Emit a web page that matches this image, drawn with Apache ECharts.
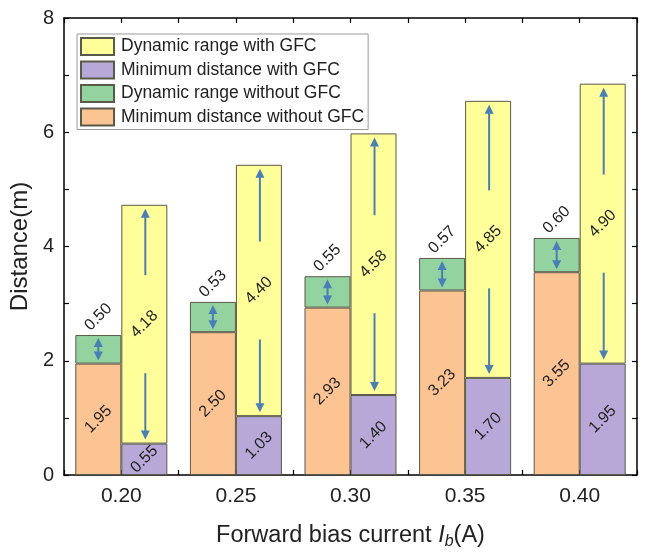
<!DOCTYPE html>
<html>
<head>
<meta charset="utf-8">
<script src="https://cdn.jsdelivr.net/npm/echarts@6/dist/echarts.min.js"></script>
<style>
html,body{margin:0;padding:0;background:#fff;}
#chart{width:646px;height:555px;}
</style>
</head>
<body>
<div id="chart"></div>
<script>
var categories = ['0.20', '0.25', '0.30', '0.35', '0.40'];
var minWithout = [1.95, 2.50, 2.93, 3.23, 3.55];
var dynWithout = [0.50, 0.53, 0.55, 0.57, 0.60];
var minWith = [0.55, 1.03, 1.40, 1.70, 1.95];
var dynWith = [4.18, 4.40, 4.58, 4.85, 4.90];
var yTicks = [0, 2, 4, 6, 8];

var FONT = 'Liberation Sans, Arial, sans-serif';
var C_ORANGE = '#FCC393', C_GREEN = '#93D3A0', C_PURPLE = '#B8A8D8', C_YELLOW = '#FFFF99';
var BORDER = '#5a5a48';
var ARROW = '#4A7EB8';
var BARW = 46;

var chart = echarts.init(document.getElementById('chart'), null, {renderer: 'canvas'});

function labelFmt(p) { return p.value.toFixed(2); }
var insideLabel = {
  show: true, position: 'inside', rotate: 45, align: 'center', verticalAlign: 'middle',
  fontSize: 16, fontFamily: FONT, color: '#222', formatter: labelFmt
};

var yellowArrowData = categories.map(function (c, i) { return [i, minWith[i], minWith[i] + dynWith[i]]; });
var greenArrowData = categories.map(function (c, i) { return [i, minWithout[i], minWithout[i] + dynWithout[i]]; });

function head(x, y, dir) {
  return {
    type: 'polygon',
    shape: {points: [[x, y], [x - 4.5, y - dir * 9], [x + 4.5, y - dir * 9]]},
    style: {fill: ARROW}
  };
}
function line(x, y1, y2) {
  return {type: 'line', shape: {x1: x, y1: y1, x2: x, y2: y2}, style: {stroke: ARROW, lineWidth: 2}};
}

function renderYellowArrows(params, api) {
  var i = api.value(0);
  var pb = api.coord([i, api.value(1)]);
  var pt = api.coord([i, api.value(2)]);
  var x = pt[0] + BARW / 2 + 1;
  var mid = (pb[1] + pt[1]) / 2;
  var topTip = pt[1] + 4, botTip = pb[1] - 4;
  return {
    type: 'group',
    children: [
      line(x, mid - 49, topTip + 6), head(x, topTip, -1),
      line(x, mid + 49, botTip - 6), head(x, botTip, 1)
    ]
  };
}
function renderGreenArrows(params, api) {
  var i = api.value(0);
  var pb = api.coord([i, api.value(1)]);
  var pt = api.coord([i, api.value(2)]);
  var x = pt[0] - BARW / 2;
  var topTip = pt[1] + 3, botTip = pb[1] - 3;
  return {
    type: 'group',
    children: [
      line(x, topTip + 6, botTip - 6), head(x, topTip, -1), head(x, botTip, 1)
    ]
  };
}

var tickLine = {color: '#000', width: 1.2};

var option = {
  animation: false,
  backgroundColor: '#fff',
  textStyle: {fontFamily: FONT},
  grid: {left: 64, right: 9, top: 18, bottom: 73, containLabel: false},
  legend: {
    data: ['Dynamic range with GFC', 'Minimum distance with GFC', 'Dynamic range without GFC', 'Minimum distance without GFC'],
    orient: 'vertical', left: 77, top: 34,
    itemWidth: 33, itemHeight: 17, itemGap: 4.5,
    padding: [3, 4, 3, 3],
    backgroundColor: '#fff', borderColor: '#999', borderWidth: 1,
    textStyle: {fontSize: 17.5, color: '#222', fontFamily: FONT, padding: [0, 0, 0, 2]},
    icon: 'rect'
  },
  xAxis: [
    {
      type: 'category', data: categories, position: 'bottom',
      axisLine: {show: true, onZero: false, lineStyle: {color: '#000', width: 1.5}},
      axisTick: {show: true, inside: true, alignWithLabel: true, length: 5, lineStyle: tickLine},
      axisLabel: {fontSize: 21, color: '#222', margin: 11, fontFamily: FONT},
      name: '{n|Forward bias current }{i|I}{s|b}{n|(A)}',
      nameLocation: 'middle', nameGap: 46,
      nameTextStyle: {
        rich: {
          n: {fontSize: 23.5, color: '#222', fontFamily: FONT},
          i: {fontSize: 23.5, color: '#222', fontFamily: FONT, fontStyle: 'italic'},
          s: {fontSize: 16, color: '#222', fontFamily: FONT, fontStyle: 'italic', padding: [13, 0, 0, 0]}
        }
      }
    },
    {
      type: 'category', data: categories, position: 'bottom',
      axisLine: {show: false, onZero: false},
      axisTick: {show: true, inside: true, length: 5, lineStyle: tickLine},
      axisLabel: {show: false}
    },
    {
      type: 'category', data: categories, position: 'top',
      axisLine: {show: true, onZero: false, lineStyle: {color: '#000', width: 1.5}},
      axisTick: {show: true, inside: true, alignWithLabel: true, length: 5, lineStyle: tickLine},
      axisLabel: {show: false}
    },
    {
      type: 'category', data: categories, position: 'top',
      axisLine: {show: false, onZero: false},
      axisTick: {show: true, inside: true, length: 5, lineStyle: tickLine},
      axisLabel: {show: false}
    }
  ],
  yAxis: [
    {
      type: 'value', min: yTicks[0], max: yTicks[yTicks.length - 1], interval: 2, position: 'left',
      axisLine: {show: true, onZero: false, lineStyle: {color: '#000', width: 1.5}},
      axisTick: {show: true, inside: true, length: 5, lineStyle: tickLine},
      minorTick: {show: true, splitNumber: 2, length: 5, lineStyle: tickLine},
      splitLine: {show: false},
      axisLabel: {fontSize: 20, color: '#222', margin: 10, fontFamily: FONT},
      name: 'Distance(m)', nameLocation: 'middle', nameGap: 32,
      nameTextStyle: {fontSize: 24, color: '#222', fontFamily: FONT}
    },
    {
      type: 'value', min: yTicks[0], max: yTicks[yTicks.length - 1], interval: 2, position: 'right',
      axisLine: {show: true, onZero: false, lineStyle: {color: '#000', width: 1.5}},
      axisTick: {show: true, inside: true, length: 5, lineStyle: tickLine},
      minorTick: {show: true, splitNumber: 2, length: 5, lineStyle: tickLine},
      splitLine: {show: false},
      axisLabel: {show: false}
    }
  ],
  series: [
    {
      name: 'Minimum distance without GFC', type: 'bar', stack: 'without', barWidth: BARW, barGap: '0%',
      data: minWithout,
      itemStyle: {color: C_ORANGE, borderColor: BORDER, borderWidth: 1},
      label: insideLabel, z: 2
    },
    {
      name: 'Dynamic range without GFC', type: 'bar', stack: 'without', barWidth: BARW, barGap: '0%',
      data: dynWithout,
      itemStyle: {color: C_GREEN, borderColor: BORDER, borderWidth: 1},
      label: {
        show: true, position: ['50%', -18], rotate: 45, align: 'center', verticalAlign: 'middle',
        fontSize: 16, fontFamily: FONT, color: '#222', formatter: labelFmt
      }, z: 2
    },
    {
      name: 'Minimum distance with GFC', type: 'bar', stack: 'with', barWidth: BARW, barGap: '0%',
      data: minWith,
      itemStyle: {color: C_PURPLE, borderColor: BORDER, borderWidth: 1},
      label: insideLabel, z: 2
    },
    {
      name: 'Dynamic range with GFC', type: 'bar', stack: 'with', barWidth: BARW, barGap: '0%',
      data: dynWith,
      itemStyle: {color: C_YELLOW, borderColor: BORDER, borderWidth: 1},
      label: insideLabel, z: 2
    },
    {
      type: 'custom', name: 'arrowsWith', renderItem: renderYellowArrows,
      data: yellowArrowData, z: 5, silent: true, encode: {x: 0, y: [1, 2]}
    },
    {
      type: 'custom', name: 'arrowsWithout', renderItem: renderGreenArrows,
      data: greenArrowData, z: 5, silent: true, encode: {x: 0, y: [1, 2]}
    }
  ]
};
chart.setOption(option);
</script>
</body>
</html>
